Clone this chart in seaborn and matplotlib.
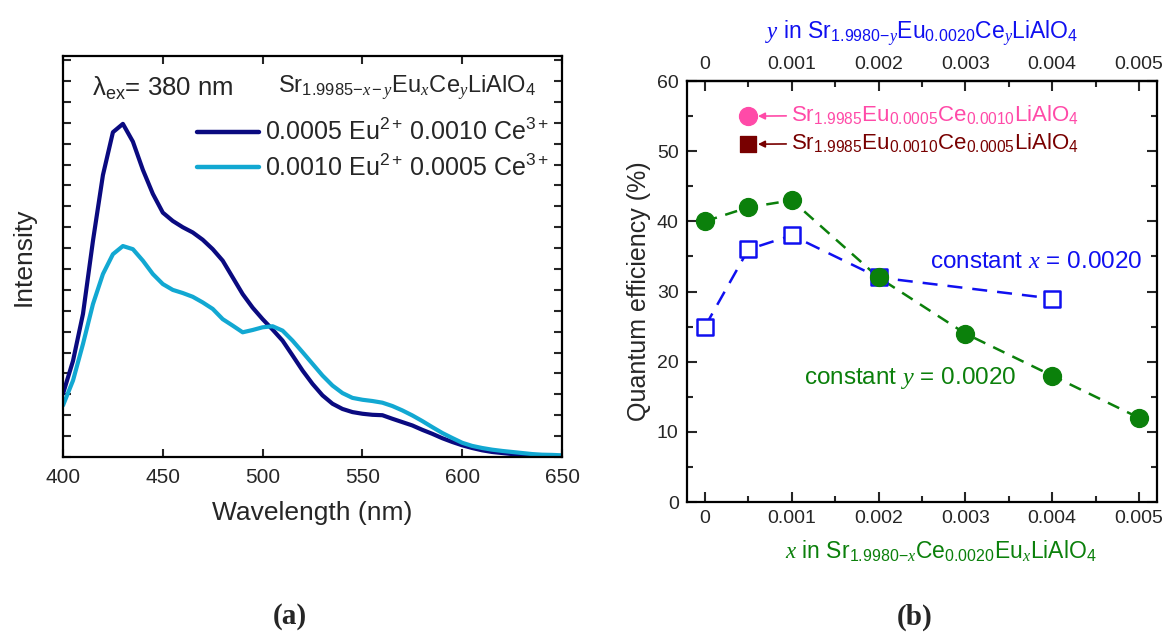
import numpy as np
import pandas as pd
import matplotlib
matplotlib.use("Agg")
import matplotlib.pyplot as plt
from matplotlib.ticker import MultipleLocator, FixedLocator
import seaborn as sns

# ---------------- data ----------------
wavelength = [400, 405, 410, 415, 420, 425, 430, 435, 440, 445, 450, 455, 460, 465, 470,
              475, 480, 485, 490, 495, 500, 505, 510, 515, 520, 525, 530, 535, 540, 545,
              550, 555, 560, 565, 570, 575, 580, 585, 590, 595, 600, 605, 610, 615, 620,
              625, 630, 635, 640, 645, 650]
int_eu05_ce10 = [3.03, 4.6, 6.85, 10.35, 13.5, 15.55, 15.95, 15.1, 13.75, 12.6, 11.7, 11.3, 11.0,
                 10.75, 10.4, 9.95, 9.4, 8.6, 7.8, 7.15, 6.6, 6.1, 5.57, 4.86, 4.14, 3.5,
                 2.95, 2.55, 2.3, 2.15, 2.07, 2.02, 2.0, 1.83, 1.67, 1.51, 1.3, 1.11, 0.9,
                 0.72, 0.56, 0.43, 0.32, 0.24, 0.19, 0.14, 0.11, 0.08, 0.06, 0.05, 0.03]
int_eu10_ce05 = [2.47, 3.66, 5.41, 7.32, 8.76, 9.71, 10.1, 9.95, 9.4, 8.76, 8.28, 8.0, 7.85,
                 7.67, 7.4, 7.09, 6.6, 6.29, 5.97, 6.08, 6.21, 6.26, 6.05, 5.57, 5.02, 4.46,
                 3.9, 3.42, 3.06, 2.83, 2.74, 2.68, 2.6, 2.44, 2.23, 1.99, 1.72, 1.43, 1.15,
                 0.91, 0.68, 0.53, 0.43, 0.35, 0.29, 0.24, 0.19, 0.14, 0.11, 0.10, 0.08]
series_labels = [r"0.0005 Eu$^{2+}\;$0.0010 Ce$^{3+}$", r"0.0010 Eu$^{2+}\;$0.0005 Ce$^{3+}$"]

x_conc = [0, 0.0005, 0.001, 0.002, 0.003, 0.004, 0.005]
qe_const_y = [40, 42, 43, 32, 24, 18, 12]
y_conc = [0, 0.0005, 0.001, 0.002, 0.004]
qe_const_x = [25, 36, 38, 32, 29]
single_conc = [0.0005]
qe_eu05_ce10 = [55]
qe_eu10_ce05 = [51]
conc_ticks = [0, 0.001, 0.002, 0.003, 0.004, 0.005]
conc_ticklabels = ["0", "0.001", "0.002", "0.003", "0.004", "0.005"]

# ---------------- style ----------------
sns.set_theme(style="ticks")
plt.rcParams.update({
    "font.family": ["Liberation Sans", "DejaVu Sans"],
    "mathtext.fontset": "custom",
    "mathtext.rm": "Liberation Sans",
    "mathtext.it": "Liberation Serif:italic",
    "mathtext.bf": "Liberation Sans:bold",
    "mathtext.default": "rm",
    "axes.linewidth": 1.6,
    "xtick.direction": "in",
    "ytick.direction": "in",
})

NAVY = "#0a0a80"
CYAN = "#12a8d2"
BLUE = "#1010f0"
GREEN = "#0b800b"
PINK = "#ff4aa8"
DRED = "#780000"

fig = plt.figure(figsize=(11.67, 6.34), dpi=100)
axL = fig.add_axes([0.054, 0.2792, 0.4276, 0.6325])
axR = fig.add_axes([0.5887, 0.2082, 0.4027, 0.664])

# ---------------- left panel ----------------
df = pd.DataFrame({"wl": wavelength + wavelength,
                   "I": int_eu05_ce10 + int_eu10_ce05,
                   "s": [series_labels[0]] * len(wavelength) + [series_labels[1]] * len(wavelength)})
sns.lineplot(data=df, x="wl", y="I", hue="s", hue_order=series_labels,
             palette=[NAVY, CYAN], linewidth=3.0, ax=axL, sort=False)
axL.set_xlim(400, 650)
axL.set_ylim(0, 19.2)
axL.xaxis.set_major_locator(MultipleLocator(50))
axL.yaxis.set_major_locator(MultipleLocator(1))
axL.tick_params(axis="both", which="major", length=6, width=1.5, top=True, right=True,
                labelsize=15, pad=8)
axL.set_yticklabels([])
axL.set_xlabel("Wavelength (nm)", fontsize=19, labelpad=10)
axL.set_ylabel("Intensity", fontsize=19, labelpad=12)
leg = axL.legend(loc="upper right", bbox_to_anchor=(0.995, 0.868), frameon=False,
                 fontsize=18, handlelength=2.5, handletextpad=0.25, labelspacing=0.38,
                 borderaxespad=0)
for h in leg.get_lines():
    h.set_linewidth(3.2)
axL.text(414.5, 17.65, "λ$_{ex}$= 380 nm", fontsize=18.5, va="center", ha="left")
axL.text(507.5, 17.65, r"Sr$_{1.9985\mathit{-x-y}}$Eu$_{\mathit{x}}$Ce$_{\mathit{y}}$LiAlO$_4$",
         fontsize=17, va="center", ha="left")

# ---------------- right panel ----------------
dfg = pd.DataFrame({"c": x_conc, "qe": qe_const_y})
dfb = pd.DataFrame({"c": y_conc, "qe": qe_const_x})
sns.lineplot(data=dfb, x="c", y="qe", color=BLUE, linewidth=1.8, dashes=False,
             ax=axR, sort=False, linestyle=(0, (6, 4)))
sns.scatterplot(data=dfb, x="c", y="qe", marker="s", s=120, facecolor="white",
                edgecolor=BLUE, linewidth=1.8, ax=axR, zorder=3)
sns.lineplot(data=dfg, x="c", y="qe", color=GREEN, linewidth=1.8, dashes=False,
             ax=axR, sort=False, linestyle=(0, (5, 3.5)))
sns.scatterplot(data=dfg, x="c", y="qe", marker="o", s=165, color=GREEN,
                edgecolor=GREEN, ax=axR, zorder=4)
sns.scatterplot(x=single_conc, y=qe_eu05_ce10, marker="o", s=165, color=PINK,
                edgecolor=PINK, ax=axR, zorder=4)
sns.scatterplot(x=single_conc, y=qe_eu10_ce05, marker="s", s=140, color=DRED,
                edgecolor=DRED, ax=axR, zorder=4)

axR.set_xlim(-0.000207, 0.005207)
axR.set_ylim(0, 60)
axR.xaxis.set_major_locator(FixedLocator(conc_ticks))
axR.set_xticklabels(conc_ticklabels)
axR.xaxis.set_minor_locator(MultipleLocator(0.0005))
axR.yaxis.set_major_locator(MultipleLocator(10))
axR.yaxis.set_minor_locator(MultipleLocator(5))
axR.tick_params(axis="both", which="major", length=7, width=1.5, right=True, top=False,
                labelsize=14, pad=6)
axR.tick_params(axis="both", which="minor", length=4, width=1.5, right=True, top=False)
axR.set_xlabel(r"$\mathit{x}$ in Sr$_{1.9980\mathit{-x}}$Ce$_{0.0020}$Eu$_{\mathit{x}}$LiAlO$_4$",
               fontsize=16.5, color=GREEN, labelpad=8)
axR.xaxis.set_label_coords(0.54, -0.085)
axR.set_ylabel("Quantum efficiency (%)", fontsize=18, labelpad=4)

sec = axR.secondary_xaxis("top")
sec.xaxis.set_major_locator(FixedLocator(conc_ticks))
sec.set_xticklabels(conc_ticklabels)
sec.xaxis.set_minor_locator(MultipleLocator(0.0005))
sec.tick_params(axis="x", which="major", direction="in", length=7, width=1.5, labelsize=14, pad=6)
sec.tick_params(axis="x", which="minor", direction="in", length=4, width=1.5)
sec.spines["top"].set_linewidth(1.6)
sec.set_xlabel(r"$\mathit{y}$ in Sr$_{1.9980\mathit{-y}}$Eu$_{0.0020}$Ce$_{\mathit{y}}$LiAlO$_4$",
               fontsize=16.5, color=BLUE, labelpad=12)

# annotations
axR.annotate(r"Sr$_{1.9985}$Eu$_{0.0005}$Ce$_{0.0010}$LiAlO$_4$", xy=(0.00061, 55),
             xytext=(0.00099, 55.2), fontsize=16, color=PINK, va="center", ha="left",
             arrowprops=dict(arrowstyle="-|>", color=PINK, lw=1.2, mutation_scale=10,
                             shrinkA=1, shrinkB=0))
axR.annotate(r"Sr$_{1.9985}$Eu$_{0.0010}$Ce$_{0.0005}$LiAlO$_4$", xy=(0.00061, 51),
             xytext=(0.00099, 51.2), fontsize=16, color=DRED, va="center", ha="left",
             arrowprops=dict(arrowstyle="-|>", color=DRED, lw=1.2, mutation_scale=10,
                             shrinkA=1, shrinkB=0))
axR.text(0.00259, 34.2, r"constant $\mathit{x}$ = 0.0020", fontsize=17.5, color=BLUE,
         va="center", ha="left")
axR.text(0.00114, 17.7, r"constant $\mathit{y}$ = 0.0020", fontsize=17.5, color=GREEN,
         va="center", ha="left")

for ax in (axL, axR):
    for sp in ax.spines.values():
        sp.set_visible(True)
        sp.set_linewidth(1.6)
        sp.set_color("black")

fig.text(290 / 1167, 1 - 617 / 634, "(a)", fontsize=21, fontweight="bold",
         family="Liberation Serif", ha="center", va="center")
fig.text(915 / 1167, 1 - 617 / 634, "(b)", fontsize=21, fontweight="bold",
         family="Liberation Serif", ha="center", va="center")

fig.savefig("out.png", dpi=100, facecolor="white")
